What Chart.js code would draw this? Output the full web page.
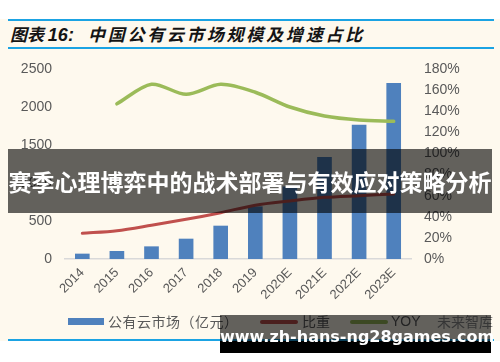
<!DOCTYPE html>
<html>
<head>
<meta charset="utf-8">
<script src="https://cdn.jsdelivr.net/npm/chart.js@4.4.0/dist/chart.umd.min.js"></script>
<style>
  html, body { margin:0; padding:0; background:#ffffff; }
  #wrap { position:relative; width:500px; height:362px; overflow:hidden; font-family:"Liberation Sans", Arial, sans-serif; }
  #cream { position:absolute; left:0; top:19px; width:500px; height:322px; background:#FEF9EE; }
  .rule { position:absolute; left:8px; width:486px; height:2px; background:#1BA3E3; }
  #title { position:absolute; left:10px; top:21px; height:26px; line-height:26px; font-family:"Noto Sans CJK SC", sans-serif; font-weight:bold; font-style:italic; font-size:17px; color:#141414; white-space:nowrap; }
  #title .num { font-family:"Liberation Sans", Arial, sans-serif; font-size:18px; }
  #title .main { letter-spacing:2.8px; margin-left:14px; }
  canvas { position:absolute; left:0; top:0; }
  #legend { position:absolute; left:0; top:311px; width:500px; height:20px; font-family:"Noto Sans CJK SC", sans-serif; font-size:14px; color:#595959; }
  .lg { position:absolute; top:0; height:20px; line-height:20px; white-space:nowrap; }
  .sw { position:absolute; }
  #banner { position:absolute; left:8px; top:149px; width:484px; height:64px; background:rgba(0,0,0,0.61); color:#fff; font-family:"Noto Sans CJK SC", sans-serif; font-weight:bold; font-size:23px; line-height:64px; text-align:center; white-space:nowrap; }
  #wm { position:absolute; left:220px; top:315px; width:271px; height:38px; background:linear-gradient(to bottom, rgba(0,0,0,0.61) 0px, rgba(0,0,0,0.61) 26px, #000 26px, #000 38px); }
  #wmtext { position:absolute; left:0; top:12px; width:271px; text-align:center; color:#fff; font-family:"DejaVu Sans", sans-serif; font-weight:bold; font-size:16px; line-height:20px; white-space:nowrap; }
</style>
</head>
<body>
<div id="wrap">
  <div id="cream"></div>
  <div class="rule" style="top:18.5px"></div>
  <div class="rule" style="top:47px"></div>
  <div class="rule" style="top:339px"></div>
  <div id="title">图表 <span class="num">16:</span><span class="main">中国公有云市场规模及增速占比</span></div>
  <canvas id="c" width="500" height="362"></canvas>
  <div id="legend">
    <div class="sw" style="left:68px; top:7px; width:36px; height:7px; background:#4F81BD;"></div>
    <div class="lg" style="left:108px; letter-spacing:0.5px;">公有云市场（亿元）</div>
    <div class="sw" style="left:260px; top:9px; width:38px; height:3.5px; background:#C0504D; border-radius:2px;"></div>
    <div class="lg" style="left:302px;">比重</div>
    <div class="sw" style="left:350px; top:9px; width:38px; height:3.5px; background:#9BBB59; border-radius:2px;"></div>
    <div class="lg" style="left:391px; font-family:'Liberation Sans',Arial,sans-serif; font-size:14px;">YOY</div>
    <div class="lg" style="left:437px; color:#8a8a8a;">未来智库</div>
  </div>
  <div id="banner">赛季心理博弈中的战术部署与有效应对策略分析</div>
  <div id="wm"><div id="wmtext">www.zh-hans-ng28games.com</div></div>
</div>
<script>
const years = ['2014','2015','2016','2017','2018','2019','2020E','2021E','2022E','2023E'];
const marketSize = [66, 101, 162, 263, 434, 688, 951, 1338, 1763, 2312];
const sharePct = [24.3, 26.8, 32.0, 37.6, 43.9, 51.0, 55.0, 58.4, 60.0, 61.6];
const yoyPct = [null, 147, 165.5, 156, 165.5, 158, 144, 135.5, 131.7, 130.4];
const leftTicks = [0, 500, 1000, 1500, 2000, 2500];
const rightTicks = [0, 20, 40, 60, 80, 100, 120, 140, 160, 180];

const tickFont = { family: '"Liberation Sans", Arial, sans-serif', size: 14 };
const tickColor = '#595959';

new Chart(document.getElementById('c'), {
  data: {
    labels: years,
    datasets: [
      { type:'line', label:'YOY', data: yoyPct, yAxisID:'y1', borderColor:'#9BBB59', borderWidth:3.5, pointRadius:0, tension:0.3, order:1, borderCapStyle:'round', spanGaps:false },
      { type:'line', label:'比重', data: sharePct, yAxisID:'y1', borderColor:'#C0504D', borderWidth:3, pointRadius:0, tension:0.3, order:2, borderCapStyle:'round' },
      { type:'bar', label:'公有云市场（亿元）', data: marketSize, yAxisID:'y', backgroundColor:'#4F81BD', barThickness:14, order:3 }
    ]
  },
  options: {
    responsive:false,
    animation:false,
    devicePixelRatio:1,
    layout:{ padding:{ left:0, right:0, top:69, bottom:0 } },
    plugins:{ legend:{ display:false }, tooltip:{ enabled:false } },
    scales:{
      x:{
        position:'bottom',
        grid:{ display:false, drawTicks:false },
        border:{ display:true, color:'#D9D9D9', width:1.5 },
        ticks:{ color:tickColor, font:{ family:'"Liberation Sans", Arial, sans-serif', size:13 }, minRotation:45, maxRotation:45, padding:6, autoSkip:false },
        afterFit(s){ s.height = 103; }
      },
      y:{
        position:'left', min:0, max:2500,
        grid:{ display:false, drawTicks:false },
        border:{ display:false },
        afterBuildTicks(s){ s.ticks = leftTicks.map(v => ({ value:v })); },
        ticks:{ color:tickColor, font:tickFont, padding:13, callback:(v)=> String(v) },
        afterFit(s){ s.width = 65; }
      },
      y1:{
        position:'right', min:0, max:180,
        grid:{ display:false, drawTicks:false },
        border:{ display:false },
        afterBuildTicks(s){ s.ticks = rightTicks.map(v => ({ value:v })); },
        ticks:{ color:tickColor, font:tickFont, padding:13, callback:(v)=> v + '%' },
        afterFit(s){ s.width = 89; }
      }
    }
  }
});
</script>
</body>
</html>
